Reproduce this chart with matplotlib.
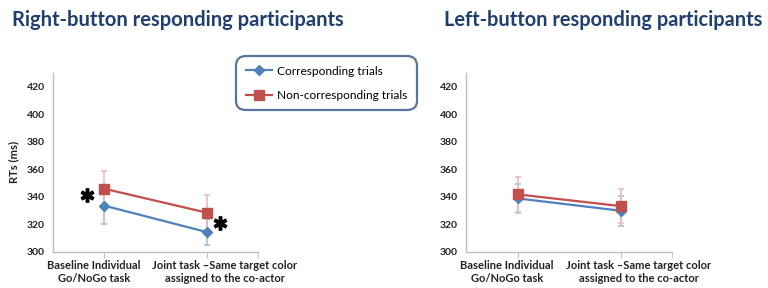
import matplotlib
matplotlib.use("Agg")
import matplotlib.pyplot as plt
import numpy as np

plt.rcParams['font.family'] = ['Lato', 'DejaVu Sans']

categories = ["Baseline Individual\nGo/NoGo task", "Joint task \u2013Same target color\nassigned to the co-actor"]
yticks = [300, 320, 340, 360, 380, 400, 420]

right_corr = [333.5, 314.3]
right_corr_err = [13.0, 9.5]
right_noncorr = [345.8, 328.4]
right_noncorr_err = [12.6, 12.6]
right_star_x = [-0.17, 1.13]
right_star_y = [341, 321]

left_corr = [338.8, 329.8]
left_corr_err = [10.5, 11.0]
left_noncorr = [341.7, 333.2]
left_noncorr_err = [12.8, 12.2]

titles = ["Right-button responding participants", "Left-button responding participants"]
series_names = ["Corresponding trials", "Non-corresponding trials"]

BLUE = "#4F81BD"
RED = "#C0504D"
BLUE_ERR = "#A9BFDC"
RED_ERR = "#E8BDBC"
TITLE_C = "#1F3F6E"
AXC = "#BFBFBF"

fig = plt.figure(figsize=(7.68, 2.88), dpi=100)
ax1 = fig.add_axes([53/768, 1-251.7/288, 205/768, 178.7/288])
ax2 = fig.add_axes([466/768, 1-251.7/288, 206/768, 178.7/288])

label_shift_pt = [-7.5, 13]

def draw(ax, corr, corr_err, non, non_err):
    x = np.arange(len(categories))
    ax.errorbar(x, corr, yerr=corr_err, fmt='none', ecolor=BLUE_ERR, elinewidth=1.2, capsize=2.5, capthick=1.2, zorder=2)
    ax.errorbar(x, non, yerr=non_err, fmt='none', ecolor=RED_ERR, elinewidth=1.2, capsize=2.5, capthick=1.2, zorder=2)
    l1, = ax.plot(x, corr, color=BLUE, lw=1.6, marker='D', ms=5, mfc=BLUE, mec=BLUE, zorder=3, label=series_names[0])
    l2, = ax.plot(x, non, color=RED, lw=1.6, marker='s', ms=7, mfc=RED, mec=RED, zorder=4, label=series_names[1])
    ax.set_xlim(-0.5, 1.5)
    ax.set_ylim(300, 430)
    ax.set_yticks(yticks)
    ax.set_yticklabels([str(t) for t in yticks], fontsize=7.5, fontweight='bold', color='#222222')
    ax.set_xticks(x)
    ax.set_xticklabels([])
    for xi, lab, dx in zip(x, categories, label_shift_pt):
        ax.annotate(lab, xy=(xi, 0), xycoords=('data', 'axes fraction'), xytext=(dx, -6),
                    textcoords='offset points', ha='center', va='top', fontsize=8,
                    fontweight='bold', color='#222222', linespacing=1.25, annotation_clip=False)
    for s in ['top', 'right']:
        ax.spines[s].set_visible(False)
    for s in ['left', 'bottom']:
        ax.spines[s].set_color(AXC)
        ax.spines[s].set_linewidth(1)
    ax.tick_params(axis='y', length=0, pad=6)
    ax.tick_params(axis='x', length=4, color=AXC, direction='out')
    ax.set_xticks([1.5], minor=True)
    ax.tick_params(axis='x', which='minor', length=4, color=AXC)
    return l1, l2

l1, l2 = draw(ax1, right_corr, right_corr_err, right_noncorr, right_noncorr_err)
draw(ax2, left_corr, left_corr_err, left_noncorr, left_noncorr_err)

ax1.plot(right_star_x, right_star_y, linestyle='none', marker=(6, 2, 0), ms=10, mew=2.5, color='black', clip_on=False, zorder=5)
ax1.set_ylabel("RTs (ms)", fontsize=8, fontweight='bold', color='#222222', labelpad=5)

fig.text(12/768, 1-20/288, titles[0], fontsize=14.5, fontweight='bold', color=TITLE_C, va='center', ha='left')
fig.text(762/768, 1-20/288, titles[1], fontsize=14.4, fontweight='bold', color=TITLE_C, va='center', ha='right')

leg = fig.legend([l1, l2], series_names, loc='upper left', bbox_to_anchor=(236/768, 1-56/288),
                 frameon=True, fancybox=True, fontsize=8.6, handlelength=2.2, labelspacing=1.1,
                 borderpad=0.8, handletextpad=0.4, borderaxespad=0)
fr = leg.get_frame()
fr.set_edgecolor("#2E5283")
fr.set_linewidth(1.6)
fr.set_boxstyle("round,pad=0,rounding_size=0.8")

fig.savefig("out.png", dpi=100)
